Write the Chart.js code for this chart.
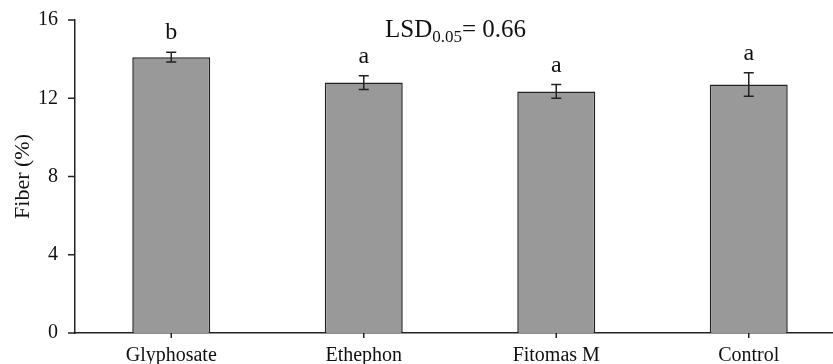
<!DOCTYPE html>
<html>
<head>
<meta charset="utf-8">
<script src="https://cdn.jsdelivr.net/npm/chart.js@4"></script>
<style>
  html, body { margin: 0; padding: 0; background: #fff; overflow: hidden; }
  #wrap { width: 845px; height: 364px; }
</style>
</head>
<body>
<div id="wrap"><canvas id="fiberChart" width="845" height="364"></canvas></div>
<script>
// data
const categories = ['Glyphosate', 'Ethephon', 'Fitomas M', 'Control'];
const fiberMeans = [14.1, 12.8, 12.35, 12.7];
const fiberErrors = [0.25, 0.35, 0.35, 0.6];
const groupLetters = ['b', 'a', 'a', 'a'];
const yTicks = [0, 4, 8, 12, 16];

const SERIF = '"Liberation Serif", "DejaVu Serif", serif';
const INK = '#222';
const TICK_LEN = 7;

// tick marks, error bars, letters and the LSD note
const annotations = {
    id: 'annotations',
    afterDraw(chart) {
        const ctx = chart.ctx;
        const x = chart.scales.x;
        const y = chart.scales.y;
        const area = chart.chartArea;
        ctx.save();
        ctx.strokeStyle = INK;
        ctx.lineWidth = 1.5;

        // axis tick marks
        ctx.beginPath();
        yTicks.forEach(v => {
            const py = y.getPixelForValue(v);
            ctx.moveTo(area.left - TICK_LEN, py);
            ctx.lineTo(area.left, py);
        });
        categories.forEach((c, i) => {
            const px = x.getPixelForValue(i);
            ctx.moveTo(px, area.bottom);
            ctx.lineTo(px, area.bottom + 5);
        });
        ctx.stroke();

        fiberMeans.forEach((v, i) => {
            const cx = x.getPixelForValue(i);
            const top = y.getPixelForValue(v + fiberErrors[i]);
            const bot = y.getPixelForValue(v - fiberErrors[i]);
            ctx.beginPath();
            ctx.moveTo(cx, top); ctx.lineTo(cx, bot);
            ctx.moveTo(cx - 5, top); ctx.lineTo(cx + 5, top);
            ctx.moveTo(cx - 5, bot); ctx.lineTo(cx + 5, bot);
            ctx.stroke();

            ctx.fillStyle = '#111';
            ctx.font = '24px ' + SERIF;
            ctx.textAlign = 'center';
            ctx.textBaseline = 'alphabetic';
            ctx.fillText(groupLetters[i], cx, top - 13);
        });

        // LSD0.05= 0.66
        ctx.fillStyle = '#111';
        ctx.textAlign = 'left';
        ctx.textBaseline = 'alphabetic';
        let px = 385, py = 37;
        ctx.font = '25px ' + SERIF;
        ctx.fillText('LSD', px, py);
        px += ctx.measureText('LSD').width;
        ctx.font = '17px ' + SERIF;
        ctx.fillText('0.05', px, py + 5);
        px += ctx.measureText('0.05').width;
        ctx.font = '25px ' + SERIF;
        ctx.fillText('= 0.66', px, py);
        ctx.restore();
    }
};

new Chart(document.getElementById('fiberChart'), {
    type: 'bar',
    data: {
        labels: categories,
        datasets: [{
            data: fiberMeans,
            backgroundColor: '#999999',
            borderColor: INK,
            borderWidth: 1.5,
            barPercentage: 0.405,
            categoryPercentage: 1
        }]
    },
    options: {
        responsive: false,
        animation: false,
        layout: { padding: { top: 20, right: 0, left: 0, bottom: 0 } },
        plugins: {
            legend: { display: false },
            tooltip: { enabled: false }
        },
        scales: {
            x: {
                grid: { display: false },
                border: { display: true, color: INK, width: 1.5 },
                ticks: {
                    color: '#111',
                    font: { family: SERIF, size: 20 },
                    padding: 3,
                    maxRotation: 0
                },
                afterFit(scale) {
                    scale.height = 31;
                    scale.paddingLeft = 0;
                    scale.paddingRight = 0;
                }
            },
            y: {
                min: 0,
                max: 16,
                afterBuildTicks(scale) {
                    scale.ticks = yTicks.map(v => ({ value: v }));
                },
                grid: { display: false },
                border: { display: true, color: INK, width: 1.5 },
                ticks: {
                    color: '#111',
                    font: { family: SERIF, size: 20 },
                    padding: 9
                },
                title: {
                    display: true,
                    text: 'Fiber (%)',
                    color: '#111',
                    font: { family: SERIF, size: 22 },
                    padding: { top: 10, bottom: 0 }
                },
                afterFit(scale) {
                    scale.width = 75;
                    scale.paddingTop = 0;
                    scale.paddingBottom = 0;
                }
            }
        }
    },
    plugins: [annotations]
});
</script>
</body>
</html>
